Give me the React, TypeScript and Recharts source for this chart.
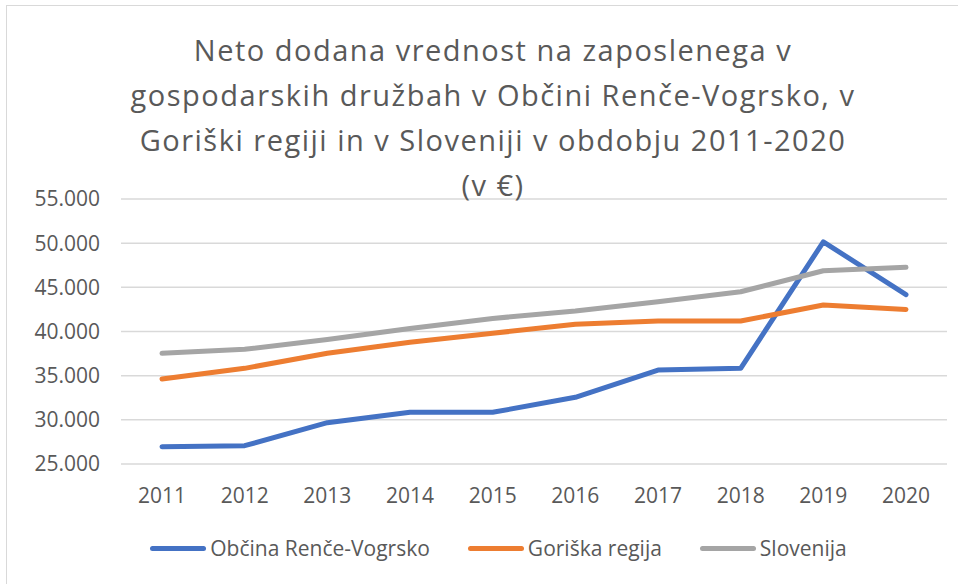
import React from "react";
import { LineChart, Line, XAxis, YAxis, CartesianGrid, Legend } from "recharts";

const years = ["2011", "2012", "2013", "2014", "2015", "2016", "2017", "2018", "2019", "2020"];
const rence = [26960, 27070, 29680, 30850, 30850, 32550, 35640, 35830, 50150, 44170];
const goriska = [34630, 35830, 37530, 38780, 39800, 40820, 41190, 41190, 43000, 42500];
const slovenija = [37530, 37980, 39100, 40350, 41480, 42320, 43370, 44500, 46880, 47260];
const yTicks = [25000, 30000, 35000, 40000, 45000, 50000, 55000];
const titleLines = [
  "Neto dodana vrednost na zaposlenega v",
  "gospodarskih družbah v Občini Renče-Vogrsko, v",
  "Goriški regiji in v Sloveniji v obdobju 2011-2020",
  "(v €)",
];
const seriesInfo = [
  { key: "rence", name: "Občina Renče-Vogrsko", color: "#4472C4" },
  { key: "goriska", name: "Goriška regija", color: "#ED7D31" },
  { key: "slovenija", name: "Slovenija", color: "#A5A5A5" },
];

const data = years.map((y, i) => ({
  year: y,
  rence: rence[i],
  goriska: goriska[i],
  slovenija: slovenija[i],
}));

const FONT = "'Open Sans', sans-serif";
const TEXT = "#595959";

const fmt = (v: number) => {
  const s = String(v);
  return s.length > 3 ? s.slice(0, s.length - 3) + "." + s.slice(-3) : s;
};

const LegendContent = () => (
  <div
    style={{
      display: "flex",
      justifyContent: "center",
      alignItems: "center",
      fontFamily: FONT,
      fontSize: 21,
      color: TEXT,
      whiteSpace: "nowrap",
    }}
  >
    {seriesInfo.map((s, i) => (
      <div key={s.key} style={{ display: "flex", alignItems: "center", marginLeft: i === 0 ? 0 : 38 }}>
        <div style={{ width: 56, height: 5, borderRadius: 3, background: s.color, marginRight: 4 }} />
        <span>{s.name}</span>
      </div>
    ))}
  </div>
);

export default function App() {
  return (
    <div
      style={{
        position: "absolute",
        left: 0,
        top: 0,
        width: 958,
        height: 584,
        overflow: "hidden",
        background: "#fff",
      }}
    >
      <div
        style={{
          position: "absolute",
          left: 6,
          top: 5,
          width: 1000,
          height: 700,
          border: "1px solid #D9D9D9",
          boxSizing: "border-box",
        }}
      />
      <div style={{ position: "absolute", left: 0, top: 0 }}>
        <LineChart
          width={958}
          height={584}
          data={data}
          margin={{ top: 199, right: 11, bottom: 80, left: 0 }}
        >
          <CartesianGrid vertical={false} stroke="#D9D9D9" strokeWidth={1.5} />
          <XAxis
            dataKey="year"
            height={40}
            padding={{ left: 41, right: 41 }}
            axisLine={false}
            tickLine={false}
            tickSize={0}
            tickMargin={24}
            interval={0}
            tick={{ fill: TEXT, fontSize: 21, fontFamily: FONT }}
          />
          <YAxis
            width={121}
            domain={[25000, 55000]}
            ticks={yTicks}
            interval={0}
            axisLine={false}
            tickLine={false}
            tickSize={0}
            tickMargin={21}
            tickFormatter={fmt}
            tick={{ fill: TEXT, fontSize: 21, fontFamily: FONT }}
          />
          <Legend
            layout="horizontal"
            verticalAlign="middle"
            align="center"
            content={<LegendContent />}
            wrapperStyle={{ position: "absolute", top: 534, left: 0, width: 997, height: 30 }}
          />
          {seriesInfo.map((s) => (
            <Line
              key={s.key}
              type="linear"
              dataKey={s.key}
              name={s.name}
              stroke={s.color}
              strokeWidth={5}
              dot={false}
              activeDot={false}
              isAnimationActive={false}
              strokeLinecap="round"
              strokeLinejoin="round"
            />
          ))}
        </LineChart>
      </div>
      <div
        style={{
          position: "absolute",
          left: 0,
          top: 27,
          width: 986,
          textAlign: "center",
          fontFamily: FONT,
          fontSize: 29,
          letterSpacing: "1.5px",
          lineHeight: "45px",
          color: TEXT,
          whiteSpace: "nowrap",
          pointerEvents: "none",
        }}
      >
        {titleLines.map((l, i) => (
          <div key={i}>{l}</div>
        ))}
      </div>
    </div>
  );
}
